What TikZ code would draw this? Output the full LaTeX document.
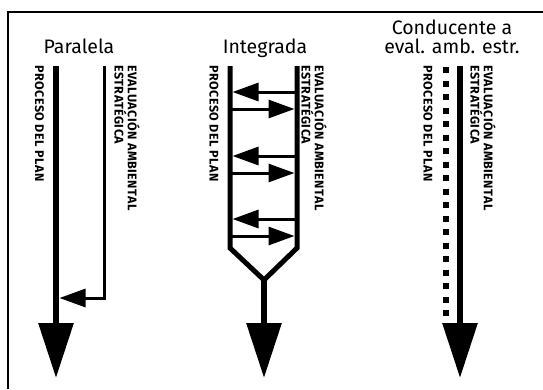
\documentclass[tikz,border=0pt]{standalone}
\usepackage{fontspec}
\setmainfont{Fira Sans}
\usetikzlibrary{arrows.meta}
\tikzset{
  mainflow/.style={line width=6pt,-{Triangle[width=34pt,length=55pt]}},
  frame/.style={line width=5pt,line join=miter},
  link/.style={line width=3pt,-{Triangle[width=18pt,length=26pt]}},
  title/.style={font=\fontsize{19.5}{19}\selectfont,align=center,inner sep=0pt},
  tag/.style={font=\fontsize{12.5}{9.5}\selectfont\bfseries\addfontfeature{LetterSpace=4},
    rotate=-90,inner sep=0pt,align=left}
}
\begin{document}
\begin{tikzpicture}[x=1pt,y=-1pt]
  \useasboundingbox (0,0) rectangle (543,389);
  \draw[line width=1.3pt] (8,389) -- (8,12) -- (543,12);

  % titles
  \node[title,anchor=base] (par) at (79,53) {Paralela};
  \node[title,anchor=base] (int) at (265,53) {Integrada};
  \node[title,anchor=south] (con) at (452,54) {Conducente a\\eval. amb. estr.};

  % paralela
  \coordinate (p-top) at (56,66);
  \coordinate (p-end) at (56,378);
  \coordinate (e-top) at (104,66);
  \coordinate (e-bend) at (104,298);
  \coordinate (e-end) at (59.5,298);
  \path[mainflow] (p-top) edge (p-end);
  \draw[link,line join=miter] (e-top) -- (e-bend) -- (e-end);
  \node[tag,anchor=west] (p-plan) at (39.5,65) {PROCESO DEL PLAN};
  \node[tag,anchor=north west] (p-eae) at (140,65) {EVALUACIÓN AMBIENTAL\\ESTRATÉGICA};

  % integrada
  \coordinate (il-top) at (230,66);
  \coordinate (il-bot) at (230,248);
  \coordinate (ir-top) at (297,66);
  \coordinate (ir-bot) at (297,248);
  \coordinate (i-join) at (264,280);
  \coordinate (i-end) at (264,378);
  \draw[frame] (il-top) -- (il-bot) -- (i-join) -- (ir-bot) -- (ir-top);
  \path[mainflow] (i-join) edge (i-end);
  \foreach \y in {92,156,219} {
    \draw[link] (297,\y) -- (232.5,\y);
    \draw[link] (230,\y+17) -- (294.5,\y+17);
  }
  \node[tag,anchor=west] (i-plan) at (214,65) {PROCESO DEL PLAN};
  \node[tag,anchor=north west] (i-eae) at (327,65) {EVALUACIÓN AMBIENTAL\\ESTRATÉGICA};

  % conducente
  \coordinate (c-top) at (446,67);
  \coordinate (c-bot) at (446,318);
  \coordinate (ce-top) at (460,66);
  \coordinate (ce-end) at (460,378);
  \draw[line width=6pt,dash pattern=on 6pt off 7.5pt] (c-top) -- (c-bot);
  \path[mainflow] (ce-top) edge (ce-end);
  \node[tag,anchor=west] (c-plan) at (428,65) {PROCESO DEL PLAN};
  \node[tag,anchor=north west] (c-eae) at (496,65) {EVALUACIÓN AMBIENTAL\\ESTRATÉGICA};
\end{tikzpicture}
\end{document}
